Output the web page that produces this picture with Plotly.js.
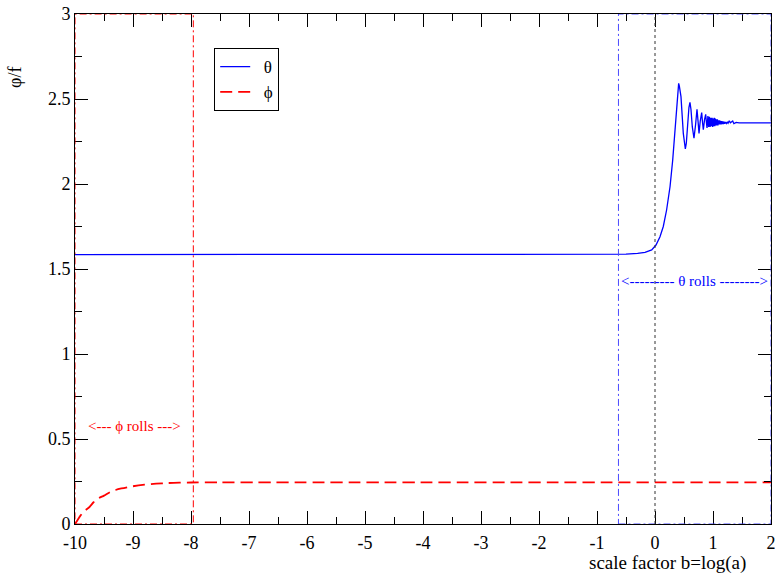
<!DOCTYPE html>
<html>
<head>
<meta charset="utf-8">
<script src="https://cdn.plot.ly/plotly-3.0.1.min.js"></script>
<style>html,body{margin:0;padding:0;background:#fff;}#plot{width:775px;height:576px;}</style>
</head>
<body>
<div id="plot"></div>
<script>
// theta(b)
const thetaB = [-10, -1, -0.5, -0.3, -0.172, -0.057, 0.017, 0.086, 0.143, 0.2, 0.259, 0.305, 0.345, 0.38, 0.395, 0.408, 0.42, 0.448, 0.488, 0.51, 0.523, 0.54, 0.563, 0.585, 0.603, 0.62, 0.643, 0.672, 0.70, 0.724, 0.742, 0.759, 0.78, 0.805, 0.82, 0.833, 0.855, 0.874, 0.887, 0.897, 0.912, 0.925, 0.938, 0.95, 0.962, 0.973, 0.984, 0.994, 1.004, 1.013, 1.022, 1.031, 1.04, 1.049, 1.058, 1.067, 1.076, 1.085, 1.094, 1.103, 1.112, 1.121, 1.13, 1.14, 1.15, 1.16, 1.17, 1.18, 1.19, 1.2, 1.215, 1.23, 1.245, 1.26, 1.28, 1.3, 1.34, 1.36, 1.4, 1.45, 2];
const thetaV = [1.585, 1.585, 1.587, 1.592, 1.598, 1.612, 1.641, 1.69, 1.75, 1.847, 1.984, 2.14, 2.337, 2.514, 2.57, 2.592, 2.575, 2.514, 2.298, 2.225, 2.206, 2.24, 2.357, 2.45, 2.48, 2.44, 2.337, 2.269, 2.35, 2.44, 2.37, 2.298, 2.37, 2.42, 2.36, 2.32, 2.38, 2.41, 2.36, 2.33, 2.40, 2.335, 2.395, 2.335, 2.39, 2.34, 2.39, 2.335, 2.385, 2.34, 2.39, 2.34, 2.385, 2.345, 2.38, 2.345, 2.38, 2.345, 2.375, 2.35, 2.375, 2.35, 2.372, 2.35, 2.37, 2.352, 2.368, 2.353, 2.367, 2.355, 2.365, 2.356, 2.364, 2.357, 2.372, 2.36, 2.37, 2.355, 2.362, 2.36, 2.36];
// phi(b)
const phiB = [-10, -9.95, -9.9, -9.83, -9.75, -9.68, -9.6, -9.5, -9.4, -9.3, -9.2, -9.1, -9.0, -8.8, -8.6, -8.4, -8.2, -8.0, -7.5, 2];
const phiV = [0, 0.027, 0.052, 0.078, 0.1, 0.128, 0.15, 0.167, 0.187, 0.2, 0.209, 0.216, 0.222, 0.231, 0.237, 0.241, 0.243, 0.244, 0.245, 0.245];
// rolling intervals
const phiRoll = [-10, -7.96];
const thetaRoll = [-0.63, 2];
const xTickVals = [-10, -9, -8, -7, -6, -5, -4, -3, -2, -1, 0, 1, 2];
const xTickText = ['-10', '-9', '-8', '-7', '-6', '-5', '-4', '-3', '-2', '-1', '0', '1', '2'];
const yTickVals = [0, 0.5, 1, 1.5, 2, 2.5, 3];
const yTickText = ['0', '0.5', '1', '1.5', '2', '2.5', '3'];

const serif = 'Liberation Serif, Times New Roman, serif';

const traces = [
  {x: thetaB, y: thetaV, mode: 'lines', name: '\u2002θ', line: {color: '#0000ff', width: 1.3}},
  {x: phiB, y: phiV, mode: 'lines', name: '\u2002ϕ', line: {color: '#ff0000', width: 1.8, dash: '12px,6px', shape: 'spline', smoothing: 0.6}}
];

const axisCommon = {
  showgrid: false, zeroline: false, showline: true, linecolor: '#000', linewidth: 1,
  mirror: 'ticks', ticks: 'inside', ticklen: 13, tickwidth: 1, tickcolor: '#000',
  tickfont: {family: serif, size: 18, color: '#000'}, ticklabeloverflow: 'allow'
};

const layout = {
  width: 775, height: 576,
  margin: {l: 75, r: 4, t: 14, b: 52},
  paper_bgcolor: '#fff', plot_bgcolor: '#fff',
  font: {family: serif, color: '#000'},
  xaxis: Object.assign({}, axisCommon, {
    range: [-10, 2], tickvals: xTickVals, ticktext: xTickText, ticklabelstandoff: 2,
    minor: {dtick: 0.5, ticks: 'inside', ticklen: 7, tickcolor: '#000'}
  }),
  yaxis: Object.assign({}, axisCommon, {
    range: [0, 3], tickvals: yTickVals, ticktext: yTickText,
    minor: {dtick: 0.25, ticks: 'inside', ticklen: 7, tickcolor: '#000'}
  }),
  showlegend: true,
  legend: {
    x: 0.2, y: 0.933, xanchor: 'left', yanchor: 'top',
    bgcolor: '#fff', bordercolor: '#000', borderwidth: 1,
    font: {family: serif, size: 17, color: '#000'}, itemwidth: 30
  },
  shapes: [
    {type: 'rect', xref: 'x', yref: 'y', x0: phiRoll[0], x1: phiRoll[1], y0: 0, y1: 3,
     line: {color: '#ff0000', width: 1, dash: '7px,3px,2px,3px'}, layer: 'above'},
    {type: 'rect', xref: 'x', yref: 'y', x0: thetaRoll[0], x1: thetaRoll[1], y0: 0, y1: 3,
     line: {color: '#4b4bff', width: 1, dash: '7px,3px,2px,3px'}, layer: 'above'},
    {type: 'line', xref: 'x', yref: 'y', x0: 0, x1: 0, y0: 0, y1: 3,
     line: {color: '#333', width: 1, dash: 'dot'}, layer: 'above'}
  ],
  annotations: [
    {xref: 'x', yref: 'y', x: (phiRoll[0] + phiRoll[1]) / 2, y: 0.575, xanchor: 'center', text: '&lt;--- ϕ rolls ---&gt;',
     showarrow: false, font: {family: serif, size: 15, color: '#ff0000'}},
    {xref: 'x', yref: 'y', x: (thetaRoll[0] + thetaRoll[1]) / 2, y: 1.43, xanchor: 'center', text: '&lt;--------- θ rolls --------&gt;',
     showarrow: false, font: {family: serif, size: 15, color: '#0000ff'}},
    {xref: 'paper', yref: 'paper', x: 0.851, y: -0.077, xanchor: 'center', yanchor: 'middle', text: 'scale factor b=log(a)',
     showarrow: false, font: {family: serif, size: 19, color: '#000'}},
    {xref: 'paper', yref: 'paper', x: -0.086, y: 0.875, xanchor: 'center', yanchor: 'middle', text: 'φ/f', textangle: -90,
     showarrow: false, font: {family: serif, size: 18, color: '#000'}}
  ]
};

Plotly.newPlot('plot', traces, layout, {displayModeBar: false, staticPlot: true});
</script>
</body>
</html>
